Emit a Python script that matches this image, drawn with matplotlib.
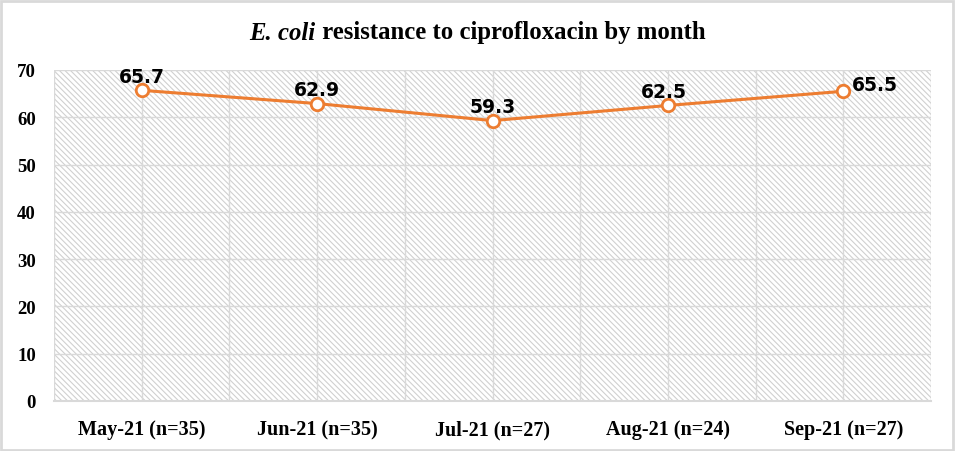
import matplotlib
matplotlib.use("Agg")
import matplotlib.pyplot as plt
import matplotlib.transforms as mtransforms
from matplotlib.patches import Rectangle

categories = ["May-21 (n=35)", "Jun-21 (n=35)", "Jul-21 (n=27)", "Aug-21 (n=24)", "Sep-21 (n=27)"]
values = [65.7, 62.9, 59.3, 62.5, 65.5]
yticks = [0, 10, 20, 30, 40, 50, 60, 70]

plt.rcParams['hatch.linewidth'] = 0.8
plt.rcParams['hatch.color'] = '#d0d0d0'

W, H = 955, 452
fig = plt.figure(figsize=(W/100, H/100), dpi=100)
ax = fig.add_axes([54/W, 1-402/H, (931-54)/W, (402-71)/H])

ax.patch.set_facecolor('white')
ax.patch.set_hatch('\\' * 6)
ax.patch.set_edgecolor('#d0d0d0')
ax.patch.set_linewidth(0)

x = list(range(len(categories)))
ax.plot(x, values, color='#ED7D31', lw=2.2, marker='o', ms=9,
        mfc='white', mec='#ED7D31', mew=2.0, zorder=5, clip_on=False)

for i, v in enumerate(values):
    if i == len(values) - 1:
        ax.annotate(f"{v}", (i, v), xytext=(6, 1), textcoords='offset points',
                    ha='left', va='baseline', fontsize=13.5, fontweight='bold',
                    family='DejaVu Sans', zorder=6)
    else:
        ax.annotate(f"{v}", (i, v), xytext=(0 if i != 3 else -3, 6), textcoords='offset points',
                    ha='center', va='baseline', fontsize=13.5, fontweight='bold',
                    family='DejaVu Sans', zorder=6)

ax.set_xlim(-0.5, len(categories) - 0.5)
ax.set_ylim(0, 70)
ax.set_yticks(yticks)
ax.set_xticks(x)
ax.set_xticklabels([])
ax.set_xticks([i - 0.5 for i in range(len(categories) + 1)], minor=True)

# category labels on a common baseline
trans = mtransforms.blended_transform_factory(ax.transData, ax.transAxes)
for i, c in enumerate(categories):
    ax.text(i, -33/331, c, transform=trans, ha='center', va='baseline',
            fontsize=14.5, fontweight='bold', family='Liberation Serif')

ax.grid(True, which='major', color='#d9d9d9', lw=1.0)
ax.grid(True, which='minor', axis='x', color='#d9d9d9', lw=1.0)
ax.set_axisbelow(True)

for s in ['top', 'right', 'left']:
    ax.spines[s].set_visible(False)
ax.spines['bottom'].set_color('#d9d9d9')
ax.spines['bottom'].set_linewidth(1.5)

ax.tick_params(axis='both', which='both', length=0)
ax.tick_params(axis='y', pad=13, labelsize=13.5)
for lab in ax.get_yticklabels():
    lab.set_fontfamily('Liberation Serif')
    lab.set_fontweight('bold')

# Title: italic "E. coli" followed by bold roman text, centered as a whole
ty = 1 - 33/H
t1 = fig.text(0, ty, "E. coli", ha='left', va='center', fontsize=17.8,
              fontweight='bold', fontstyle='italic', family='Liberation Serif')
t2 = fig.text(0, ty, " resistance to ciprofloxacin by month", ha='left', va='center',
              fontsize=17.8, fontweight='bold', family='Liberation Serif')
fig.canvas.draw()
r = fig.canvas.get_renderer()
w1 = t1.get_window_extent(r).width / W
w2 = t2.get_window_extent(r).width / W
x0 = 0.5 - (w1 + w2) / 2
t1.set_x(x0)
t2.set_x(x0 + w1)

fig.patches.append(Rectangle((1/W, 1/H), 1-3/W, 1-3/H, transform=fig.transFigure,
                             fill=False, edgecolor='#d9d9d9', lw=2))

fig.savefig("out.png", dpi=100)
